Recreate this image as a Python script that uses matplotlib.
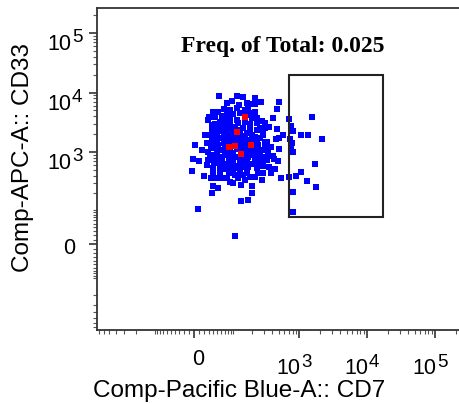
import matplotlib
matplotlib.use("Agg")
import matplotlib.pyplot as plt
from matplotlib.transforms import blended_transform_factory, offset_copy

# ---- data (fluorescence values) ----
cd7_blue = [55, 114, 146, 222, 273, 512, 77, 97, 126, 164, 190, 222, 175, 155, 114, 89, 67, 52, 40, 30,
            44, 62, 80, 101, 129, 158, 197, 222, 467, 416, 280, 240, 197, 364, 467, 586, 506, 457, 340, 313,
            280, 506, 407, 351, 484, 441, 296, 535, 280, 197, 132, 202, 175, 132, 52, 40, 36, 8, 108, 2,
            -1, 10, -3, 19, 25, 34, 50, 62, 89, 101, 108, 146, 185, 249, 289, 235, 175, 164, 222, 280,
            331, 249, 209, 175, 129, 101, 77, 57, 40, 28, 44, 62, 83, 28, 40, 25, 36, 48, 62, 77,
            48, 36, 28, 57, 72, 89, 101, 121, 146, 185, 235, 263, 222, 263, 185, 146, 114, 89, 67, 52,
            62, 77, 101, 129, 155, 164, 209, 249, 313,
            712, 760, 822, 1050, 1340, 1550, 2170, 736, 790, 752, 822, 1690, 1050, 900, 712, 1320, 1770, 822, 822,
            36, 44, 55, 67, 83, 101, 121, 137, 164, 197, 38, 50, 74, 101, 126, 164, 214, 34, 48, 72,
            89, 114, 142, 185, 235, 36, 55, 72, 91, 114, 146, 222, 48, 67, 89, 114, 146, 197, 249, 57,
            83, 129, 164, 40, 77, 121, 155, 67, 89, 114, 155, 185, 77, 57, 40, 108, 89, 129, 67, 52,
            108, 155, 83, 235, 296, 313, 331, 296, 364, 380, 222, 185, 235, 313,
            45, 60, 70, 85, 95, 110, 125, 140, 150, 170, 180, 200, 215, 230, 250, 270, 30, 38, 65, 78,
            92, 105, 118, 135, 160, 175, 190, 205, 240, 260, 33, 42, 58, 75, 98, 112, 130, 148, 168, 188,
            210, 228, 255, 290, 320, 350, 380, 420, 22, 15]
cd33_blue = [8850, 8890, 8430, 8000, 6850, 6950, 6600, 7200, 6200, 6600, 6350, 6350, 5450, 5100, 5450, 5100, 5300, 4780, 4650, 3940,
             3940, 4040, 4480, 4370, 4480, 4650, 4590, 4780, 5380, 3690, 3330, 3690, 3690, 2640, 2480, 1940, 1750, 1660, 1475, 1265,
             1083, 1110, 860, 1020, 708, 520, 437, 360, 337, 266, 277, 198, 151, 145, 250, 266, 205, 105, 17, 1300,
             755, 715, 480, 395, 605, 360, 360, 360, 316, 296, 410, 410, 384, 437, 583, 530, 553, 670, 690, 646,
             735, 836, 952, 836, 735, 646, 568, 499, 533, 735, 836, 735, 735, 1015, 1232, 1400, 1700, 2065, 1700, 2200,
             2670, 2850, 3460, 3250, 2850, 3250, 2670, 3040, 2500, 2350, 2350, 2500, 1815, 1700, 1595, 1595, 1595, 1595, 1400, 1310,
             1083, 952, 952, 1155, 1232, 1015, 1155, 1310, 1490,
             3550, 2740, 2260, 1960, 1960, 3830, 1680, 1660, 1400, 1155, 990, 640, 455, 395, 374, 325, 253, 206, 89,
             2350, 1940, 2290, 2500, 1940, 2065, 2200, 1860, 2065, 1940, 1500, 1595, 1500, 1400, 1430, 1500, 1500, 1155, 1060, 1215,
             1083, 1110, 1060, 890, 1083, 890, 836, 890, 815, 815, 836, 815, 646, 630, 583, 583, 568, 630, 646, 425,
             437, 468, 450, 437, 360, 360, 337, 3460, 3940, 3460, 3250, 2970, 4200, 2670, 2200, 2670, 2500, 2350, 1860, 1700,
             1700, 1770, 1265, 1500, 1940, 2500, 1083, 836, 568, 437, 384, 4200, 3040, 3040,
             3000, 2800, 2300, 2000, 1800, 1650, 1450, 1350, 1250, 1150, 1050, 950, 880, 780, 700, 620, 1900, 2450, 3100, 2600,
             2150, 1900, 1750, 1550, 1350, 1280, 1180, 1080, 980, 880, 780, 680, 600, 520, 480, 540, 600, 700, 760, 900,
             1000, 1200, 1700, 2100, 1300, 900, 1200, 760, 1900, 1100]
cd7_red = [155, 114, 86, 108, 190, 134]
cd33_red = [3850, 2170, 1215, 1250, 1310, 945]

gate_x = [710, 17160, 17160, 710, 710]
gate_y = [71, 71, 19950, 19950, 71]

title_text = "Freq. of Total: 0.025"
x_title = "Comp-Pacific Blue-A:: CD7"
y_title = "Comp-APC-A:: CD33"
major_ticks = [0, 1e3, 1e4, 1e5]
major_exps = [None, "3", "4", "5"]

W, H = 459, 404
fig = plt.figure(figsize=(W / 100, H / 100), dpi=100)
ax = fig.add_axes([97 / W, 1 - 330 / H, (W - 97) / W, (330 - 8) / H])
ax.set_xscale("asinh", linear_width=57)
ax.set_yscale("asinh", linear_width=57)
ax.set_xlim(-760, 224800)
ax.set_ylim(-793, 263700)

ax.scatter(cd7_blue, cd33_blue, s=14, marker="s", color="#0000ff", linewidths=0, zorder=3)
ax.scatter(cd7_red, cd33_red, s=14, marker="s", color="#ff0000", linewidths=0, zorder=4)
ax.plot(gate_x, gate_y, color="#222222", lw=1.5, zorder=5, solid_joinstyle="miter")

# ticks
minors = []
for n in range(1, 6):
    for k in range(1, 10):
        v = k * 10 ** n
        if v not in major_ticks:
            minors.append(v)
            if v <= 900:
                minors.append(-v)
for axis in (ax.xaxis, ax.yaxis):
    axis.set_major_locator(matplotlib.ticker.FixedLocator(major_ticks))
    axis.set_minor_locator(matplotlib.ticker.FixedLocator(minors))
    axis.set_major_formatter(matplotlib.ticker.NullFormatter())
    axis.set_minor_formatter(matplotlib.ticker.NullFormatter())
ax.tick_params(which="major", direction="out", length=5.5, width=1.2, color="#333333")
ax.tick_params(which="minor", direction="out", length=3, width=0.8, color="#555555")
for s in ("left", "bottom", "top"):
    ax.spines[s].set_linewidth(1.3)
    ax.spines[s].set_color("#333333")
ax.spines["right"].set_visible(False)

lab_font = "Liberation Sans"
bx = blended_transform_factory(ax.transData, ax.transAxes)
by = blended_transform_factory(ax.transAxes, ax.transData)
for t, e in zip(major_ticks, major_exps):
    if e is None:
        ax.text(t, 0, "0", transform=offset_copy(bx, fig, x=4, y=-35, units="dots"),
                ha="center", va="baseline", fontsize=15.5, family=lab_font)
        ax.text(0, t, "0", transform=offset_copy(by, fig, x=-22, y=-10, units="dots"),
                ha="right", va="baseline", fontsize=15.5, family=lab_font)
    else:
        ax.text(t, 0, "10", transform=offset_copy(bx, fig, x=1, y=-44, units="dots"),
                ha="right", va="baseline", fontsize=15.5, family=lab_font)
        ax.text(t, 0, e, transform=offset_copy(bx, fig, x=2, y=-37, units="dots"),
                ha="left", va="baseline", fontsize=13.5, family=lab_font)
        ax.text(0, t, "10", transform=offset_copy(by, fig, x=-26, y=-17, units="dots"),
                ha="right", va="baseline", fontsize=15.5, family=lab_font)
        ax.text(0, t, e, transform=offset_copy(by, fig, x=-25, y=-9, units="dots"),
                ha="left", va="baseline", fontsize=13.5, family=lab_font)

fig.text(239 / W, 1 - 397 / H, x_title, ha="center", va="baseline", fontsize=17.5, family=lab_font)
fig.text(34 / W, 1 - 158 / H, y_title, ha="right", va="center", rotation=90,
         fontsize=17.5, family=lab_font)
fig.text(283 / W, 1 - 52 / H, title_text, ha="center", va="baseline", fontsize=17,
         family="Liberation Serif", fontweight="bold")

fig.savefig("out.png", dpi=100, facecolor="white")
